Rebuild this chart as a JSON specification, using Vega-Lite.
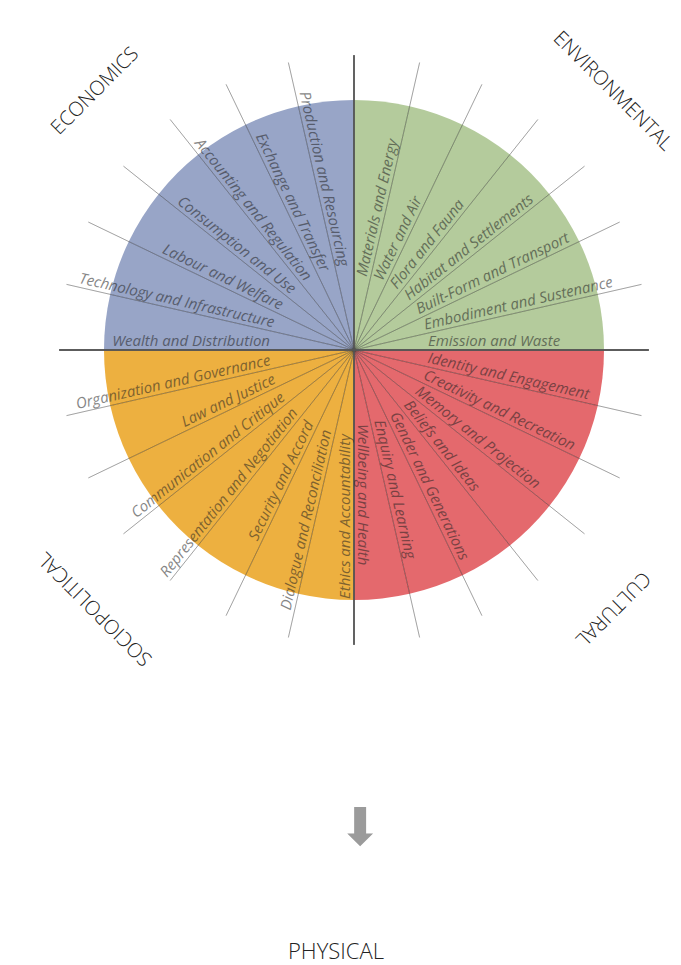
{
  "$schema": "https://vega.github.io/schema/vega-lite/v6.json",
  "width": 654,
  "height": 700,
  "autosize": {"type": "none"},
  "padding": {"left": 27, "top": 0, "right": 0, "bottom": 265},
  "background": "white",
  "config": {"view": {"stroke": null}},
  "title": {
    "text": "⬇",
    "subtitle": "PHYSICAL\u2800\u2800\u2800",
    "orient": "bottom",
    "anchor": "middle",
    "offset": 104,
    "dx": 6,
    "font": "DejaVu Sans",
    "fontSize": 52,
    "fontWeight": "normal",
    "color": "#9b9b9b",
    "subtitleFont": "Open Sans",
    "subtitleFontSize": 22,
    "subtitleFontWeight": 300,
    "subtitleColor": "#222222",
    "subtitlePadding": 86
  },
  "datasets": {
    "subs": [
      {"idx": 0, "name": "Materials and Energy", "domain": "Environmental", "v": 1},
      {"idx": 1, "name": "Water and Air", "domain": "Environmental", "v": 1},
      {"idx": 2, "name": "Flora and Fauna", "domain": "Environmental", "v": 1},
      {"idx": 3, "name": "Habitat and Settlements", "domain": "Environmental", "v": 1},
      {"idx": 4, "name": "Built-Form and Transport", "domain": "Environmental", "v": 1},
      {"idx": 5, "name": "Embodiment and Sustenance", "domain": "Environmental", "v": 1},
      {"idx": 6, "name": "Emission and Waste", "domain": "Environmental", "v": 1},
      {"idx": 7, "name": "Identity and Engagement", "domain": "Cultural", "v": 1},
      {"idx": 8, "name": "Creativity and Recreation", "domain": "Cultural", "v": 1},
      {"idx": 9, "name": "Memory and Projection", "domain": "Cultural", "v": 1},
      {"idx": 10, "name": "Beliefs and Ideas", "domain": "Cultural", "v": 1},
      {"idx": 11, "name": "Gender and Generations", "domain": "Cultural", "v": 1},
      {"idx": 12, "name": "Enquiry and Learning", "domain": "Cultural", "v": 1},
      {"idx": 13, "name": "Wellbeing and Health", "domain": "Cultural", "v": 1},
      {"idx": 14, "name": "Ethics and Accountability", "domain": "Sociopolitical", "v": 1},
      {"idx": 15, "name": "Dialogue and Reconciliation", "domain": "Sociopolitical", "v": 1},
      {"idx": 16, "name": "Security and Accord", "domain": "Sociopolitical", "v": 1},
      {"idx": 17, "name": "Representation and Negotiation", "domain": "Sociopolitical", "v": 1},
      {"idx": 18, "name": "Communication and Critique", "domain": "Sociopolitical", "v": 1},
      {"idx": 19, "name": "Law and Justice", "domain": "Sociopolitical", "v": 1},
      {"idx": 20, "name": "Organization and Governance", "domain": "Sociopolitical", "v": 1},
      {"idx": 21, "name": "Wealth and Distribution", "domain": "Economics", "v": 1},
      {"idx": 22, "name": "Technology and Infrastructure", "domain": "Economics", "v": 1},
      {"idx": 23, "name": "Labour and Welfare", "domain": "Economics", "v": 1},
      {"idx": 24, "name": "Consumption and Use", "domain": "Economics", "v": 1},
      {"idx": 25, "name": "Accounting and Regulation", "domain": "Economics", "v": 1},
      {"idx": 26, "name": "Exchange and Transfer", "domain": "Economics", "v": 1},
      {"idx": 27, "name": "Production and Resourcing", "domain": "Economics", "v": 1}
    ],
    "doms": [
      {"o": 0, "title": "ENVIRONMENTAL", "n": 7},
      {"o": 1, "title": "CULTURAL", "n": 7},
      {"o": 2, "title": "SOCIOPOLITICAL", "n": 7},
      {"o": 3, "title": "ECONOMICS", "n": 7}
    ]
  },
  "layer": [
    {
      "data": {"name": "subs"},
      "mark": {"type": "arc", "outerRadius": 250},
      "encoding": {
        "theta": {"field": "v", "type": "quantitative", "stack": true, "scale": {"domain": [0, 28], "nice": false, "zero": false}},
        "order": {"field": "idx", "type": "quantitative"},
        "detail": {"field": "idx", "type": "nominal"},
        "color": {
          "field": "domain", "type": "nominal", "legend": null,
          "scale": {"domain": ["Environmental", "Cultural", "Sociopolitical", "Economics"], "range": ["#B4CB9C", "#E4696D", "#EDB040", "#98A5C7"]}
        }
      }
    },
    {
      "data": {"name": "subs"},
      "mark": {"type": "arc", "outerRadius": 295, "fill": "transparent", "stroke": "#000000", "strokeOpacity": 0.25, "strokeWidth": 0.8, "strokeDash": [0, 66.4, 600]},
      "encoding": {
        "theta": {"field": "v", "type": "quantitative", "stack": true, "scale": {"domain": [0, 28], "nice": false, "zero": false}},
        "order": {"field": "idx", "type": "quantitative"},
        "detail": {"field": "idx", "type": "nominal"}
      }
    },
    {
      "data": {"name": "doms"},
      "mark": {"type": "arc", "outerRadius": 295, "fill": "transparent", "stroke": "#555555", "strokeWidth": 1.3, "strokeDash": [0, 463.7, 600]},
      "encoding": {
        "theta": {"field": "n", "type": "quantitative", "stack": true, "scale": {"domain": [0, 28], "nice": false, "zero": false}},
        "order": {"field": "o", "type": "quantitative"},
        "detail": {"field": "o", "type": "nominal"}
      }
    },
    {
      "data": {"name": "subs"},
      "transform": [{"filter": "datum.idx < 14"}],
      "mark": {"type": "text", "radius": 74, "align": "left", "baseline": "alphabetic", "dy": -4, "font": "Open Sans", "fontStyle": "italic", "fontSize": 15, "color": "#222222", "opacity": 0.55},
      "encoding": {
        "theta": {"field": "idx", "type": "quantitative", "stack": null, "scale": {"domain": [-1, 27], "range": [0, 6.283185307179586], "nice": false, "zero": false}},
        "angle": {"field": "idx", "type": "quantitative", "scale": {"domain": [0, 28], "range": [-77.142857, 282.857143], "nice": false, "zero": false}},
        "text": {"field": "name", "type": "nominal"}
      }
    },
    {
      "data": {"name": "subs"},
      "transform": [{"filter": "datum.idx >= 14"}],
      "mark": {"type": "text", "radius": 84, "align": "right", "baseline": "alphabetic", "dy": -4, "font": "Open Sans", "fontStyle": "italic", "fontSize": 15, "color": "#222222", "opacity": 0.55},
      "encoding": {
        "theta": {"field": "idx", "type": "quantitative", "stack": null, "scale": {"domain": [0, 28], "range": [0, 6.283185307179586], "nice": false, "zero": false}},
        "angle": {"field": "idx", "type": "quantitative", "scale": {"domain": [0, 28], "range": [-270, 90], "nice": false, "zero": false}},
        "text": {"field": "name", "type": "nominal"}
      }
    },
    {
      "data": {"name": "doms"},
      "mark": {"type": "text", "radius": 366, "align": "center", "baseline": "middle", "font": "Open Sans", "fontWeight": 300, "fontSize": 20, "color": "#222222"},
      "encoding": {
        "theta": {"field": "o", "type": "quantitative", "stack": null, "scale": {"domain": [-0.5, 3.5], "range": [0, 6.283185307179586], "nice": false, "zero": false}},
        "angle": {"field": "o", "type": "quantitative", "scale": {"domain": [-0.5, 3.5], "range": [0, 360], "nice": false, "zero": false}},
        "text": {"field": "title", "type": "nominal"}
      }
    }
  ],
  "resolve": {"scale": {"theta": "independent", "angle": "independent", "color": "independent"}}
}
